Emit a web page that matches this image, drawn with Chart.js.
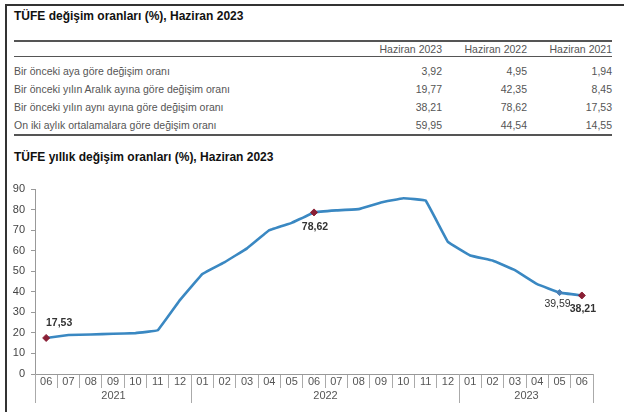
<!DOCTYPE html>
<html>
<head>
<meta charset="utf-8">
<script src="https://cdn.jsdelivr.net/npm/chart.js@4"></script>
<style>
  body { margin: 0; width: 624px; height: 412px; background: #fff; position: relative; overflow: hidden;
         font-family: "Liberation Sans", Arial, sans-serif; }
  #frame { position: absolute; left: 5px; top: 4px; width: 700px; height: 500px;
           border-left: 2px solid #333; border-top: 2px solid #333; }
  .title { position: absolute; left: 14px; font-size: 12px; font-weight: bold; color: #111; }
  #tbl { position: absolute; left: 14px; top: 40px; width: 598px; border-collapse: collapse;
         font-size: 10.5px; color: #555; }
  #tbl th { font-weight: normal; text-align: right; height: 14px; padding: 0; line-height: 14px;
            border-top: 2px solid #555; border-bottom: 1px solid #555; }
  #tbl td { height: 18px; padding: 0; line-height: 18px; }
  #tbl td.num { text-align: right; }
  #tbl tr.first td { padding-top: 5px; }
  #tbl tr.last td { border-bottom: 2px solid #555; }
  #chartBox { position: absolute; left: 0; top: 170px; width: 624px; height: 242px; }
</style>
</head>
<body>
<div id="frame"></div>
<div class="title" style="top:9px">TÜFE değişim oranları (%), Haziran 2023</div>
<table id="tbl"></table>
<div class="title" style="top:150px">TÜFE yıllık değişim oranları (%), Haziran 2023</div>
<div id="chartBox"><canvas id="cpiChart" width="624" height="242"></canvas></div>
<script>
// table data
const tableColumns = ['Haziran 2023', 'Haziran 2022', 'Haziran 2021'];
const tableRows = [
    'Bir önceki aya göre değişim oranı',
    'Bir önceki yılın Aralık ayına göre değişim oranı',
    'Bir önceki yılın aynı ayına göre değişim oranı',
    'On iki aylık ortalamalara göre değişim oranı'
];
const june2023 = [3.92, 19.77, 38.21, 59.95];
const june2022 = [4.95, 42.35, 78.62, 44.54];
const june2021 = [1.94, 8.45, 17.53, 14.55];

// chart data
const months = ['06', '07', '08', '09', '10', '11', '12',
    '01', '02', '03', '04', '05', '06', '07', '08', '09', '10', '11', '12',
    '01', '02', '03', '04', '05', '06'];
const years = ['2021', '2022', '2023'];
const cpiAnnual = [17.53, 18.95, 19.25, 19.58, 19.89, 21.31, 36.08,
    48.69, 54.44, 61.14, 69.97, 73.50, 78.62, 79.60, 80.21, 83.45, 85.51, 84.39, 64.27,
    57.68, 55.18, 50.51, 43.68, 39.59, 38.21];
const yTicks = [0, 10, 20, 30, 40, 50, 60, 70, 80, 90];

// points that get a marker and a value label
const redPoints = [0, 12, 24];
const bluePoints = [23];

function fmt(v) {
    return v.toFixed(2).replace('.', ',');
}

// build the table
const tbl = document.getElementById('tbl');
let html = '<tr><th style="width:343px"></th>';
tableColumns.forEach(c => html += '<th style="width:85px">' + c + '</th>');
html += '</tr>';
tableRows.forEach((r, i) => {
    let cls = i === 0 ? 'first' : (i === tableRows.length - 1 ? 'last' : '');
    html += '<tr class="' + cls + '"><td>' + r + '</td>';
    [june2023, june2022, june2021].forEach(col => html += '<td class="num">' + fmt(col[i]) + '</td>');
    html += '</tr>';
});
tbl.innerHTML = html;

// year labels under the month ticks
const yearAxisPlugin = {
    id: 'yearAxis',
    afterDraw(chart) {
        const ctx = chart.ctx;
        const x = chart.scales.x;
        const half = (x.getPixelForValue(1) - x.getPixelForValue(0)) / 2;
        const top = chart.chartArea.bottom;
        let groups = [];
        let yi = -1;
        months.forEach((m, i) => {
            if (i === 0 || m === '01') { yi++; groups.push({ year: years[yi], start: i, end: i }); }
            groups[groups.length - 1].end = i;
        });
        ctx.save();
        ctx.strokeStyle = '#aaa';
        ctx.lineWidth = 1;
        ctx.fillStyle = '#555';
        ctx.font = '11px "Liberation Sans", Arial, sans-serif';
        ctx.textAlign = 'center';
        ctx.textBaseline = 'middle';
        groups.forEach(g => {
            const x0 = Math.round(x.getPixelForValue(g.start) - half) + 0.5;
            const x1 = Math.round(x.getPixelForValue(g.end) + half) + 0.5;
            ctx.beginPath();
            ctx.moveTo(x0, top); ctx.lineTo(x0, top + 29);
            ctx.moveTo(x1, top); ctx.lineTo(x1, top + 29);
            ctx.stroke();
            ctx.fillText(g.year, (x0 + x1) / 2, top + 22);
        });
        ctx.restore();
    }
};

// value labels next to the marked points
const labelOffsets = { 0: [13, -15, true], 12: [1, 15, true], 23: [-2, 11, false], 24: [1, 14, true] };
const valueLabelPlugin = {
    id: 'valueLabels',
    afterDatasetsDraw(chart) {
        const ctx = chart.ctx;
        const meta = chart.getDatasetMeta(0);
        ctx.save();
        ctx.fillStyle = '#333';
        ctx.textAlign = 'center';
        ctx.textBaseline = 'middle';
        Object.keys(labelOffsets).forEach(k => {
            const i = +k;
            const p = meta.data[i];
            const o = labelOffsets[k];
            ctx.font = (o[2] ? 'bold ' : '') + '10.5px "Liberation Sans", Arial, sans-serif';
            ctx.fillText(fmt(cpiAnnual[i]), p.x + o[0], p.y + o[1]);
        });
        ctx.restore();
    }
};

const ctx = document.getElementById('cpiChart').getContext('2d');
new Chart(ctx, {
    type: 'line',
    data: {
        labels: months,
        datasets: [{
            data: cpiAnnual,
            borderColor: '#3a88c2',
            borderWidth: 2.6,
            tension: 0.05,
            pointRadius: c => redPoints.includes(c.dataIndex) ? 3.5 : (bluePoints.includes(c.dataIndex) ? 3 : 0),
            pointStyle: 'rectRot',
            pointBackgroundColor: c => redPoints.includes(c.dataIndex) ? '#8a1f35' : '#4a7fb5',
            pointBorderColor: c => redPoints.includes(c.dataIndex) ? '#8a1f35' : '#4a7fb5',
            pointBorderWidth: 1
        }]
    },
    options: {
        responsive: false,
        animation: false,
        layout: { padding: { top: 19, right: 31, left: 0, bottom: 0 } },
        plugins: { legend: { display: false }, tooltip: { enabled: false } },
        scales: {
            x: {
                offset: true,
                afterFit: s => { s.height = 38; },
                grid: { offset: true, drawOnChartArea: false, drawTicks: true, tickLength: 14, color: '#aaa' },
                border: { display: true, color: '#999' },
                ticks: { color: '#555', font: { size: 11, family: '"Liberation Sans", Arial, sans-serif' },
                         padding: -13, maxRotation: 0, autoSkip: false }
            },
            y: {
                min: 0,
                max: 90,
                afterFit: s => { s.width = 35; },
                afterBuildTicks: s => { s.ticks = yTicks.map(v => ({ value: v })); },
                grid: { drawOnChartArea: false, drawTicks: true, tickLength: 4, color: '#999' },
                border: { display: true, color: '#999' },
                ticks: { color: '#444', font: { size: 11, family: '"Liberation Sans", Arial, sans-serif' }, padding: 6 }
            }
        }
    },
    plugins: [yearAxisPlugin, valueLabelPlugin]
});
</script>
</body>
</html>
